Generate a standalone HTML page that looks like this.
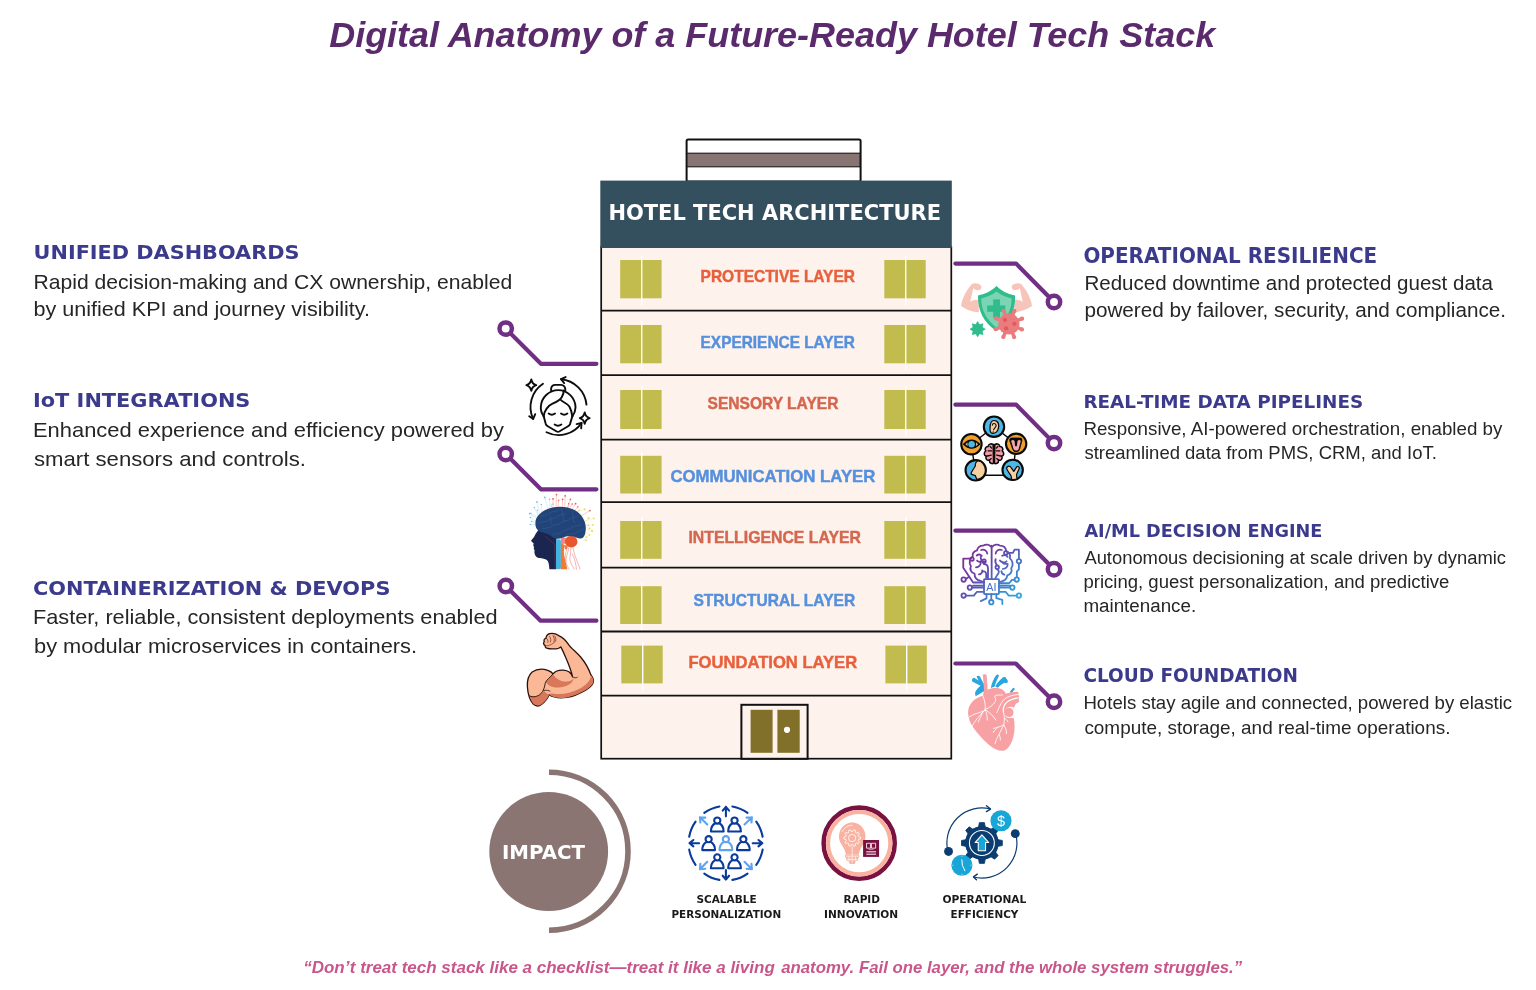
<!DOCTYPE html>
<html lang="en">
<head>
<meta charset="utf-8">
<title>Digital Anatomy of a Future-Ready Hotel Tech Stack</title>
<style>
html,body{margin:0;padding:0;background:#ffffff;}
body{width:1536px;height:990px;overflow:hidden;font-family:"Liberation Sans",sans-serif;}
svg{display:block;will-change:transform;}
text{white-space:pre;}
</style>
</head>
<body>
<svg width="1536" height="990" viewBox="0 0 1536 990">
<rect width="1536" height="990" fill="#ffffff"/>
<text x="329.2" y="46.9" font-size="35.5" fill="#5a2a6c" font-weight="bold" font-style="italic" font-family="'Liberation Sans', sans-serif" text-anchor="start" textLength="886.0" lengthAdjust="spacingAndGlyphs">Digital Anatomy of a Future-Ready Hotel Tech Stack</text>
<rect x="686.6" y="139.6" width="174" height="42" rx="1.5" fill="#fff" stroke="#111" stroke-width="2"/>
<rect x="687" y="153.2" width="173" height="13.6" fill="#887472" stroke="#1a1a1a" stroke-width="1.1"/>
<rect x="601.2" y="247" width="350.0999999999999" height="511.7" fill="#fef2ed" stroke="#111" stroke-width="1.7"/>
<rect x="600.3" y="180.6" width="351.5" height="67.4" fill="#34505f"/>
<text x="608.4" y="219.8" font-size="21.5" fill="#ffffff" font-weight="bold" font-style="normal" font-family="'DejaVu Sans', sans-serif" text-anchor="start" textLength="332.6" lengthAdjust="spacingAndGlyphs">HOTEL TECH ARCHITECTURE</text>
<rect x="620.2" y="260" width="41.4" height="38.3" fill="#c2bb4e"/>
<rect x="641.0" y="256" width="1.4" height="49.3" fill="#ffffff"/>
<rect x="884.3" y="260" width="41.4" height="38.3" fill="#c2bb4e"/>
<rect x="905.0" y="256" width="1.4" height="49.3" fill="#ffffff"/>
<rect x="620.2" y="325" width="41.4" height="38.3" fill="#c2bb4e"/>
<rect x="641.0" y="321" width="1.4" height="49.3" fill="#ffffff"/>
<rect x="884.3" y="325" width="41.4" height="38.3" fill="#c2bb4e"/>
<rect x="905.0" y="321" width="1.4" height="49.3" fill="#ffffff"/>
<rect x="620.2" y="390" width="41.4" height="39.0" fill="#c2bb4e"/>
<rect x="641.0" y="386" width="1.4" height="50.0" fill="#ffffff"/>
<rect x="884.3" y="390" width="41.4" height="39.0" fill="#c2bb4e"/>
<rect x="905.0" y="386" width="1.4" height="50.0" fill="#ffffff"/>
<rect x="620.2" y="455.8" width="41.4" height="37.7" fill="#c2bb4e"/>
<rect x="641.0" y="451.8" width="1.4" height="48.7" fill="#ffffff"/>
<rect x="884.3" y="455.8" width="41.4" height="37.7" fill="#c2bb4e"/>
<rect x="905.0" y="451.8" width="1.4" height="48.7" fill="#ffffff"/>
<rect x="620.2" y="521" width="41.4" height="37.8" fill="#c2bb4e"/>
<rect x="641.0" y="517" width="1.4" height="48.8" fill="#ffffff"/>
<rect x="884.3" y="521" width="41.4" height="37.8" fill="#c2bb4e"/>
<rect x="905.0" y="517" width="1.4" height="48.8" fill="#ffffff"/>
<rect x="620.2" y="586.2" width="41.4" height="37.8" fill="#c2bb4e"/>
<rect x="641.0" y="582.2" width="1.4" height="48.8" fill="#ffffff"/>
<rect x="884.3" y="586.2" width="41.4" height="37.8" fill="#c2bb4e"/>
<rect x="905.0" y="582.2" width="1.4" height="48.8" fill="#ffffff"/>
<rect x="621.3" y="645.6" width="41.4" height="37.8" fill="#c2bb4e"/>
<rect x="642.0" y="641.6" width="1.4" height="48.8" fill="#ffffff"/>
<rect x="885.4" y="645.6" width="41.4" height="37.8" fill="#c2bb4e"/>
<rect x="906.0" y="641.6" width="1.4" height="48.8" fill="#ffffff"/>
<line x1="601.2" y1="310.7" x2="951.3" y2="310.7" stroke="#111" stroke-width="1.8"/>
<line x1="601.2" y1="375.2" x2="951.3" y2="375.2" stroke="#111" stroke-width="1.8"/>
<line x1="601.2" y1="439.7" x2="951.3" y2="439.7" stroke="#111" stroke-width="1.8"/>
<line x1="601.2" y1="502.2" x2="951.3" y2="502.2" stroke="#111" stroke-width="1.8"/>
<line x1="601.2" y1="567.7" x2="951.3" y2="567.7" stroke="#111" stroke-width="1.8"/>
<line x1="601.2" y1="631.5" x2="951.3" y2="631.5" stroke="#111" stroke-width="1.8"/>
<line x1="601.2" y1="695.7" x2="951.3" y2="695.7" stroke="#111" stroke-width="1.8"/>
<rect x="741.4" y="704.8" width="66.2" height="54" fill="#fef2ed" stroke="#111" stroke-width="2"/>
<rect x="750.6" y="709.8" width="22" height="43" fill="#81702a"/>
<rect x="777.4" y="709.8" width="22.3" height="43" fill="#81702a"/>
<circle cx="787" cy="729.8" r="3.1" fill="#fff"/>
<text x="700.6" y="282.3" font-size="16.4" fill="#e8603c" font-weight="bold" font-style="normal" font-family="'Liberation Sans', sans-serif" text-anchor="start" textLength="154.4" lengthAdjust="spacingAndGlyphs" stroke="#e8603c" stroke-width="0.45">PROTECTIVE LAYER</text>
<text x="700.6" y="348.3" font-size="16.4" fill="#5690dc" font-weight="bold" font-style="normal" font-family="'Liberation Sans', sans-serif" text-anchor="start" textLength="154.4" lengthAdjust="spacingAndGlyphs" stroke="#5690dc" stroke-width="0.45">EXPERIENCE LAYER</text>
<text x="707.6" y="409.0" font-size="16.4" fill="#d4674e" font-weight="bold" font-style="normal" font-family="'Liberation Sans', sans-serif" text-anchor="start" textLength="130.8" lengthAdjust="spacingAndGlyphs" stroke="#d4674e" stroke-width="0.45">SENSORY LAYER</text>
<text x="670.4" y="482.2" font-size="16.4" fill="#5690dc" font-weight="bold" font-style="normal" font-family="'Liberation Sans', sans-serif" text-anchor="start" textLength="205.0" lengthAdjust="spacingAndGlyphs" stroke="#5690dc" stroke-width="0.45">COMMUNICATION LAYER</text>
<text x="688.4" y="543.3" font-size="16.4" fill="#d4674e" font-weight="bold" font-style="normal" font-family="'Liberation Sans', sans-serif" text-anchor="start" textLength="172.6" lengthAdjust="spacingAndGlyphs" stroke="#d4674e" stroke-width="0.45">INTELLIGENCE LAYER</text>
<text x="693.4" y="605.8" font-size="16.4" fill="#5690dc" font-weight="bold" font-style="normal" font-family="'Liberation Sans', sans-serif" text-anchor="start" textLength="161.8" lengthAdjust="spacingAndGlyphs" stroke="#5690dc" stroke-width="0.45">STRUCTURAL LAYER</text>
<text x="688.4" y="667.6" font-size="16.4" fill="#e8603c" font-weight="bold" font-style="normal" font-family="'Liberation Sans', sans-serif" text-anchor="start" textLength="168.8" lengthAdjust="spacingAndGlyphs" stroke="#e8603c" stroke-width="0.45">FOUNDATION LAYER</text>
<polyline points="505.7,328.6 540.9,363.8 596.4,363.8" fill="none" stroke="#712e85" stroke-width="4.2" stroke-linecap="round" stroke-linejoin="round"/>
<circle cx="505.7" cy="328.6" r="6.2" fill="#fff" stroke="#712e85" stroke-width="4.5"/>
<polyline points="505.7,454.0 540.9,489.3 596.4,489.3" fill="none" stroke="#712e85" stroke-width="4.2" stroke-linecap="round" stroke-linejoin="round"/>
<circle cx="505.7" cy="454.0" r="6.2" fill="#fff" stroke="#712e85" stroke-width="4.5"/>
<polyline points="505.8,586.0 540.6,620.7 596.4,620.7" fill="none" stroke="#712e85" stroke-width="4.2" stroke-linecap="round" stroke-linejoin="round"/>
<circle cx="505.8" cy="586.0" r="6.2" fill="#fff" stroke="#712e85" stroke-width="4.5"/>
<polyline points="1054,302.0 1016.2,263.6 955.4,263.6" fill="none" stroke="#712e85" stroke-width="4.2" stroke-linecap="round" stroke-linejoin="round"/>
<circle cx="1054" cy="302.0" r="6.2" fill="#fff" stroke="#712e85" stroke-width="4.5"/>
<polyline points="1054,443.1 1016.2,404.7 955.4,404.7" fill="none" stroke="#712e85" stroke-width="4.2" stroke-linecap="round" stroke-linejoin="round"/>
<circle cx="1054" cy="443.1" r="6.2" fill="#fff" stroke="#712e85" stroke-width="4.5"/>
<polyline points="1054,569.3 1015.8,530.7 955.4,530.7" fill="none" stroke="#712e85" stroke-width="4.2" stroke-linecap="round" stroke-linejoin="round"/>
<circle cx="1054" cy="569.3" r="6.2" fill="#fff" stroke="#712e85" stroke-width="4.5"/>
<polyline points="1054,701.8 1015.8,663.5 955.4,663.5" fill="none" stroke="#712e85" stroke-width="4.2" stroke-linecap="round" stroke-linejoin="round"/>
<circle cx="1054" cy="701.8" r="6.2" fill="#fff" stroke="#712e85" stroke-width="4.5"/>
<text x="33.6" y="259.2" font-size="19.9" fill="#3b3a8c" font-weight="bold" font-style="normal" font-family="'DejaVu Sans', sans-serif" text-anchor="start" textLength="265.8" lengthAdjust="spacingAndGlyphs">UNIFIED DASHBOARDS</text>
<text x="33.5" y="288.5" font-size="20.3" fill="#262626" font-weight="normal" font-style="normal" font-family="'Liberation Sans', sans-serif" text-anchor="start" textLength="478.7" lengthAdjust="spacingAndGlyphs">Rapid decision-making and CX ownership, enabled</text>
<text x="33.5" y="315.6" font-size="20.3" fill="#262626" font-weight="normal" font-style="normal" font-family="'Liberation Sans', sans-serif" text-anchor="start" textLength="336.5" lengthAdjust="spacingAndGlyphs">by unified KPI and journey visibility.</text>
<text x="33.0" y="406.7" font-size="20.1" fill="#3b3a8c" font-weight="bold" font-style="normal" font-family="'DejaVu Sans', sans-serif" text-anchor="start" textLength="217.4" lengthAdjust="spacingAndGlyphs">IoT INTEGRATIONS</text>
<text x="33.0" y="437.3" font-size="21.0" fill="#262626" font-weight="normal" font-style="normal" font-family="'Liberation Sans', sans-serif" text-anchor="start" textLength="471.0" lengthAdjust="spacingAndGlyphs">Enhanced experience and efficiency powered by</text>
<text x="34.0" y="466.0" font-size="21.0" fill="#262626" font-weight="normal" font-style="normal" font-family="'Liberation Sans', sans-serif" text-anchor="start" textLength="272.0" lengthAdjust="spacingAndGlyphs">smart sensors and controls.</text>
<text x="33.0" y="595.2" font-size="19.7" fill="#3b3a8c" font-weight="bold" font-style="normal" font-family="'DejaVu Sans', sans-serif" text-anchor="start" textLength="357.4" lengthAdjust="spacingAndGlyphs">CONTAINERIZATION &amp; DEVOPS</text>
<text x="33.0" y="623.6" font-size="20.7" fill="#262626" font-weight="normal" font-style="normal" font-family="'Liberation Sans', sans-serif" text-anchor="start" textLength="464.6" lengthAdjust="spacingAndGlyphs">Faster, reliable, consistent deployments enabled</text>
<text x="34.0" y="652.7" font-size="20.7" fill="#262626" font-weight="normal" font-style="normal" font-family="'Liberation Sans', sans-serif" text-anchor="start" textLength="383.0" lengthAdjust="spacingAndGlyphs">by modular microservices in containers.</text>
<text x="1083.4" y="262.7" font-size="20.6" fill="#3b3a8c" font-weight="bold" font-style="normal" font-family="'DejaVu Sans', sans-serif" text-anchor="start" textLength="293.8" lengthAdjust="spacingAndGlyphs">OPERATIONAL RESILIENCE</text>
<text x="1084.4" y="290.4" font-size="19.7" fill="#262626" font-weight="normal" font-style="normal" font-family="'Liberation Sans', sans-serif" text-anchor="start" textLength="408.6" lengthAdjust="spacingAndGlyphs">Reduced downtime and protected guest data</text>
<text x="1084.4" y="317.4" font-size="19.7" fill="#262626" font-weight="normal" font-style="normal" font-family="'Liberation Sans', sans-serif" text-anchor="start" textLength="421.6" lengthAdjust="spacingAndGlyphs">powered by failover, security, and compliance.</text>
<text x="1083.4" y="408.1" font-size="18.5" fill="#3b3a8c" font-weight="bold" font-style="normal" font-family="'DejaVu Sans', sans-serif" text-anchor="start" textLength="279.8" lengthAdjust="spacingAndGlyphs">REAL-TIME DATA PIPELINES</text>
<text x="1083.4" y="434.6" font-size="17.7" fill="#262626" font-weight="normal" font-style="normal" font-family="'Liberation Sans', sans-serif" text-anchor="start" textLength="419.0" lengthAdjust="spacingAndGlyphs">Responsive, AI-powered orchestration, enabled by</text>
<text x="1084.4" y="458.9" font-size="17.7" fill="#262626" font-weight="normal" font-style="normal" font-family="'Liberation Sans', sans-serif" text-anchor="start" textLength="352.4" lengthAdjust="spacingAndGlyphs">streamlined data from PMS, CRM, and IoT.</text>
<text x="1084.4" y="536.7" font-size="18.5" fill="#3b3a8c" font-weight="bold" font-style="normal" font-family="'DejaVu Sans', sans-serif" text-anchor="start" textLength="238.0" lengthAdjust="spacingAndGlyphs">AI/ML DECISION ENGINE</text>
<text x="1084.4" y="563.5" font-size="17.6" fill="#262626" font-weight="normal" font-style="normal" font-family="'Liberation Sans', sans-serif" text-anchor="start" textLength="421.6" lengthAdjust="spacingAndGlyphs">Autonomous decisioning at scale driven by dynamic</text>
<text x="1083.4" y="587.8" font-size="17.6" fill="#262626" font-weight="normal" font-style="normal" font-family="'Liberation Sans', sans-serif" text-anchor="start" textLength="366.0" lengthAdjust="spacingAndGlyphs">pricing, guest personalization, and predictive</text>
<text x="1083.4" y="611.6" font-size="17.6" fill="#262626" font-weight="normal" font-style="normal" font-family="'Liberation Sans', sans-serif" text-anchor="start" textLength="112.8" lengthAdjust="spacingAndGlyphs">maintenance.</text>
<text x="1083.4" y="681.5" font-size="19.0" fill="#3b3a8c" font-weight="bold" font-style="normal" font-family="'DejaVu Sans', sans-serif" text-anchor="start" textLength="214.6" lengthAdjust="spacingAndGlyphs">CLOUD FOUNDATION</text>
<text x="1083.4" y="708.7" font-size="17.9" fill="#262626" font-weight="normal" font-style="normal" font-family="'Liberation Sans', sans-serif" text-anchor="start" textLength="428.8" lengthAdjust="spacingAndGlyphs">Hotels stay agile and connected, powered by elastic</text>
<text x="1084.4" y="733.5" font-size="17.9" fill="#262626" font-weight="normal" font-style="normal" font-family="'Liberation Sans', sans-serif" text-anchor="start" textLength="366.0" lengthAdjust="spacingAndGlyphs">compute, storage, and real-time operations.</text>
<circle cx="548.7" cy="851.5" r="59.4" fill="#8a7573"/>
<path d="M549,772.2 A79,79 0 0 1 549,930.2" fill="none" stroke="#8a7573" stroke-width="5.6"/>
<text x="502.0" y="858.6" font-size="18.8" fill="#ffffff" font-weight="bold" font-style="normal" font-family="'DejaVu Sans', sans-serif" text-anchor="start" textLength="83.0" lengthAdjust="spacingAndGlyphs">IMPACT</text>
<text x="696.4" y="903.0" font-size="10.6" fill="#1a1a1a" font-weight="bold" font-style="normal" font-family="'DejaVu Sans', sans-serif" text-anchor="start" textLength="60.2" lengthAdjust="spacingAndGlyphs">SCALABLE</text>
<text x="671.4" y="917.5" font-size="10.6" fill="#1a1a1a" font-weight="bold" font-style="normal" font-family="'DejaVu Sans', sans-serif" text-anchor="start" textLength="109.8" lengthAdjust="spacingAndGlyphs">PERSONALIZATION</text>
<text x="843.4" y="903.0" font-size="10.6" fill="#1a1a1a" font-weight="bold" font-style="normal" font-family="'DejaVu Sans', sans-serif" text-anchor="start" textLength="36.6" lengthAdjust="spacingAndGlyphs">RAPID</text>
<text x="824.0" y="917.5" font-size="10.6" fill="#1a1a1a" font-weight="bold" font-style="normal" font-family="'DejaVu Sans', sans-serif" text-anchor="start" textLength="74.2" lengthAdjust="spacingAndGlyphs">INNOVATION</text>
<text x="942.4" y="903.0" font-size="10.6" fill="#1a1a1a" font-weight="bold" font-style="normal" font-family="'DejaVu Sans', sans-serif" text-anchor="start" textLength="84.0" lengthAdjust="spacingAndGlyphs">OPERATIONAL</text>
<text x="950.6" y="917.5" font-size="10.6" fill="#1a1a1a" font-weight="bold" font-style="normal" font-family="'DejaVu Sans', sans-serif" text-anchor="start" textLength="67.8" lengthAdjust="spacingAndGlyphs">EFFICIENCY</text>
<text x="303.2" y="973.0" font-size="16.2" fill="#c9568a" font-weight="bold" font-style="italic" font-family="'Liberation Sans', sans-serif" text-anchor="start" textLength="471.6" lengthAdjust="spacingAndGlyphs">“Don’t treat tech stack like a checklist—treat it like a living</text>
<text x="781.2" y="973.0" font-size="16.2" fill="#c9568a" font-weight="bold" font-style="italic" font-family="'Liberation Sans', sans-serif" text-anchor="start" textLength="461.0" lengthAdjust="spacingAndGlyphs">anatomy. Fail one layer, and the whole system struggles.”</text>
<!-- face / sensory icon -->
<g transform="translate(520,370) scale(0.07072)" fill="none" stroke="#0d0d0d" stroke-width="27" stroke-linecap="round" stroke-linejoin="round">
<path d="M335,655 C300,600 290,560 295,520 C300,390 410,285 540,285 C670,285 785,390 785,530 C785,580 765,620 740,655"/>
<path d="M335,655 L365,765 Q372,785 392,795 L520,870 Q537,880 555,870 L680,795 Q700,785 707,765 L740,655"/>
<path d="M335,655 C340,580 400,500 460,475 C520,450 570,420 590,385 C615,340 620,310 618,290"/>
<path d="M580,425 C620,465 670,470 700,520 C725,565 735,620 740,655"/>
<path d="M440,295 L440,265 Q445,212 500,210 L580,210 Q635,215 640,268 L640,297"/>
<path d="M405,615 Q450,650 495,615"/><path d="M580,615 Q625,650 670,615"/><path d="M490,770 Q537,805 585,770"/>
<path d="M325,195 A395,395 0 0 0 185,690"/><path d="M130,655 L187,692 L215,625"/>
<path d="M940,490 A400,400 0 0 0 580,130"/><path d="M645,100 L580,130 L625,185"/>
<path d="M375,880 A390,390 0 0 0 870,750"/><path d="M800,765 L870,750 L865,825"/>
<path d="M160,135 Q172,200 230,215 Q172,232 160,295 Q146,232 90,215 Q146,200 160,135 Z"/>
<path d="M915,600 Q927,665 985,680 Q927,697 915,760 Q901,697 845,680 Q901,665 915,600 Z"/>
</g>
<!-- brain / intelligence icon -->
<g transform="translate(520,488) scale(0.08688)">
<g stroke-width="5" fill="none" stroke-linecap="round" opacity="0.8">
<path d="M230,300 L195,160 M250,290 L245,190 M215,330 L165,225 M200,360 L110,295 M195,390 L120,340 M190,420 L120,420 M320,240 L285,108 M345,230 L340,130 M210,300 L200,255 M185,330 L125,290 M200,400 L135,385" stroke="#8fd0ee"/>
<path d="M380,225 L380,125 M415,220 L420,75 M440,220 L445,140 M360,215 L360,190 M490,215 L490,130 M515,215 L520,90 M545,225 L580,130 M575,235 L600,185 M600,245 L640,180 M630,260 L665,215 M690,330 L805,260 M660,275 L690,255 M560,220 L560,180" stroke="#ee6a62"/>
<path d="M650,270 L745,245 M740,380 L850,350 M750,430 L840,425 M755,470 L830,495 M750,520 L800,540 M740,560 L765,565 M735,590 L760,600 M745,400 L790,345 M750,450 L800,465" stroke="#f2dc6a"/>
</g>
<g fill="#6fc3ea"><circle cx="195" cy="160" r="10"/><circle cx="245" cy="190" r="9"/><circle cx="165" cy="225" r="9"/><circle cx="110" cy="295" r="9"/><circle cx="120" cy="340" r="9"/><circle cx="120" cy="420" r="9"/><circle cx="285" cy="108" r="10"/><circle cx="340" cy="130" r="9"/><circle cx="200" cy="255" r="8"/><circle cx="135" cy="385" r="8"/><circle cx="125" cy="290" r="8"/><circle cx="380" cy="185" r="8"/></g>
<g fill="#ea5a55"><circle cx="380" cy="125" r="10"/><circle cx="420" cy="75" r="10"/><circle cx="490" cy="130" r="10"/><circle cx="520" cy="90" r="10"/><circle cx="580" cy="130" r="10"/><circle cx="600" cy="185" r="9"/><circle cx="640" cy="180" r="10"/><circle cx="665" cy="215" r="9"/><circle cx="805" cy="260" r="10"/><circle cx="445" cy="140" r="8"/><circle cx="560" cy="180" r="8"/></g>
<g fill="#f0d850"><circle cx="745" cy="245" r="11"/><circle cx="685" cy="258" r="9"/><circle cx="850" cy="350" r="10"/><circle cx="790" cy="345" r="12"/><circle cx="840" cy="425" r="10"/><circle cx="785" cy="430" r="11"/><circle cx="830" cy="495" r="12"/><circle cx="800" cy="465" r="10"/><circle cx="800" cy="540" r="10"/><circle cx="765" cy="565" r="11"/><circle cx="760" cy="600" r="10"/></g>
<!-- face silhouette -->
<path d="M215,480 C195,505 180,525 172,545 C160,575 140,590 128,603 C126,615 150,625 158,640 C150,655 152,670 162,680 C156,695 158,705 168,715 C160,750 175,790 200,800 C240,815 290,805 320,840 C335,870 335,900 338,935 L420,935 L420,570 L300,500 Z" fill="#1a2550"/>
<path d="M290,555 C330,590 370,620 400,650 L405,935" fill="none" stroke="#8a3a4a" stroke-width="6"/>
<!-- spinal / orange -->
<path d="M465,600 C470,640 500,640 520,660 C500,700 500,760 520,830 C530,880 540,910 545,935 L465,935 Z" fill="#ef7a30"/>
<path d="M470,575 C500,560 540,570 545,600 C540,640 500,650 470,640 Z" fill="#f08585"/>
<ellipse cx="590" cy="618" rx="72" ry="68" fill="#e9552c"/>
<path d="M520,660 C540,650 560,680 540,700 C520,720 510,700 520,660Z" fill="#ef7a30"/>
<rect x="415" y="590" width="55" height="345" rx="20" fill="#3fb4e5"/>
<path d="M415,640 L415,935 L440,935 L425,640Z" fill="#1a2550" opacity="0.0"/>
<g fill="none" stroke="#e8554a" stroke-width="5" stroke-linecap="round">
<path d="M560,690 C555,760 520,800 530,850 C540,900 560,920 565,935"/>
<path d="M585,690 C590,760 560,800 580,850 C600,900 620,920 625,935"/>
<path d="M610,685 C620,750 640,800 660,850 C675,890 690,915 690,935"/>
<path d="M540,700 C520,760 515,800 520,830"/>
<path d="M600,760 C620,800 640,840 650,935"/>
</g>
<!-- brain -->
<path d="M180,440 C170,380 185,330 230,295 C290,240 380,215 460,215 C560,215 650,250 700,310 C745,360 765,430 755,495 C750,545 730,580 700,582 C660,585 640,560 600,555 C560,548 520,560 480,575 C440,590 400,585 370,560 C340,540 320,525 290,520 C240,510 190,490 180,440 Z" fill="#234478"/>
<g fill="none" stroke="#3565a5" stroke-width="6" stroke-linecap="round" opacity="0.9">
<path d="M240,330 C280,300 320,320 340,290 C370,260 420,280 450,250"/>
<path d="M220,400 C260,380 300,400 330,370 C360,340 400,360 430,330 C460,300 500,320 530,290"/>
<path d="M260,470 C300,450 340,470 370,440 C400,410 440,430 470,400 C500,370 540,390 570,360 C600,330 640,350 660,320"/>
<path d="M380,540 C420,520 460,530 490,500 C520,470 560,490 590,460 C620,430 660,450 700,420"/>
<path d="M540,540 C580,520 620,540 650,510 C680,480 710,500 735,470"/>
<path d="M480,250 C500,300 480,340 510,380 M600,270 C620,320 600,360 630,400 M350,330 C360,370 350,400 370,430"/>
</g>
</g>
<!-- arm / structural icon -->
<g transform="translate(520,626) scale(0.08688)" stroke-linejoin="round" stroke-linecap="round">
<path d="M340,88 C380,80 420,92 445,110 C490,130 535,175 560,215 C590,260 650,300 700,360 C750,420 790,490 815,560 C835,590 850,610 845,640 C840,680 800,710 760,735 C700,770 620,810 540,822 C470,832 400,835 335,792 C320,830 290,870 250,900 C220,925 180,925 150,895 C110,850 90,780 85,700 C80,630 95,570 140,530 C190,495 260,490 320,510 C350,520 370,535 380,550 C400,525 450,505 500,508 C550,512 590,540 605,585 C590,520 560,440 525,360 C505,310 485,270 470,240 C450,262 400,268 340,262 C300,260 285,245 290,225 C270,215 265,195 280,180 C270,165 280,145 300,140 C300,115 320,95 340,88 Z" fill="#fbb896" stroke="#2a120a" stroke-width="15"/>
<path d="M298,645 C330,600 360,580 380,552 C410,610 480,645 540,640 C580,638 605,620 618,600 C610,650 560,690 470,705 C400,715 330,700 298,645 Z" fill="#d9775a"/>
<path d="M335,792 C400,835 470,832 540,822 C620,810 700,770 760,735 C800,710 840,680 845,640 C848,620 835,595 818,568 C815,630 750,690 680,725 C600,765 500,790 420,782 C380,778 350,770 335,792 Z" fill="#d9775a"/>
<path d="M110,800 C170,830 240,800 275,745 C300,770 320,785 335,795 C320,830 290,870 250,900 C220,922 180,920 152,892 C135,870 120,840 110,800Z" fill="#d9775a"/>
<path d="M380,552 C350,590 300,620 290,660 C285,700 270,750 240,780 C200,815 150,825 112,805" fill="none" stroke="#2a120a" stroke-width="11"/>
<path d="M275,742 C300,735 330,740 345,750" fill="none" stroke="#2a120a" stroke-width="9"/>
<path d="M605,585 C625,600 645,600 660,590" fill="none" stroke="#2a120a" stroke-width="9"/>
<path d="M300,140 C320,150 330,170 320,190 M340,120 C355,140 360,165 350,185 M380,110 C395,135 400,160 390,180 M290,225 C320,235 370,215 410,175 C415,150 410,130 400,115" fill="none" stroke="#7a3a25" stroke-width="9"/>
</g>
<!-- shield / protective icon -->
<g transform="translate(955,275) scale(0.07072)">
<path d="M240,122 Q320,100 368,148 Q388,198 332,215 Q285,218 258,186 L215,380 Q270,338 332,352 L338,528 Q200,520 85,440 Q100,290 240,122 Z" fill="#f6c4b9"/>
<g transform="translate(1174,0) scale(-1,1)"><path d="M240,122 Q320,100 368,148 Q388,198 332,215 Q285,218 258,186 L215,380 Q270,338 332,352 L338,528 Q200,520 85,440 Q100,290 240,122 Z" fill="#f6c4b9"/></g>
<path d="M587,155 Q680,255 850,290 Q862,620 587,792 Q318,620 325,290 Q492,255 587,155 Z" fill="#2fbd8c"/>
<path d="M587,235 Q680,310 802,332 Q800,580 587,742 Q372,580 370,332 Q492,310 587,235 Z" fill="#7bd5b5"/>
<rect x="540" y="345" width="96" height="258" fill="#2fbd8c"/>
<rect x="455" y="430" width="256" height="90" fill="#2fbd8c"/>
<circle cx="762" cy="692" r="150" fill="#e97c7c"/>
<line x1="896" y1="638" x2="948" y2="618" stroke="#e97c7c" stroke-width="48" stroke-linecap="round"/>
<circle cx="948" cy="618" r="30" fill="#e97c7c"/>
<line x1="895" y1="749" x2="946" y2="770" stroke="#e97c7c" stroke-width="48" stroke-linecap="round"/>
<circle cx="946" cy="770" r="30" fill="#e97c7c"/>
<line x1="816" y1="826" x2="836" y2="878" stroke="#e97c7c" stroke-width="48" stroke-linecap="round"/>
<circle cx="836" cy="878" r="30" fill="#e97c7c"/>
<line x1="705" y1="825" x2="684" y2="876" stroke="#e97c7c" stroke-width="48" stroke-linecap="round"/>
<circle cx="684" cy="876" r="30" fill="#e97c7c"/>
<line x1="628" y1="746" x2="576" y2="766" stroke="#e97c7c" stroke-width="48" stroke-linecap="round"/>
<circle cx="576" cy="766" r="30" fill="#e97c7c"/>
<line x1="629" y1="635" x2="578" y2="614" stroke="#e97c7c" stroke-width="48" stroke-linecap="round"/>
<circle cx="578" cy="614" r="30" fill="#e97c7c"/>
<line x1="708" y1="558" x2="688" y2="506" stroke="#e97c7c" stroke-width="48" stroke-linecap="round"/>
<circle cx="688" cy="506" r="30" fill="#e97c7c"/>
<line x1="819" y1="559" x2="840" y2="508" stroke="#e97c7c" stroke-width="48" stroke-linecap="round"/>
<circle cx="840" cy="508" r="30" fill="#e97c7c"/>
<circle cx="706" cy="636" r="30" fill="#e8555f"/><circle cx="840" cy="690" r="30" fill="#e8555f"/><circle cx="722" cy="756" r="30" fill="#e8555f"/>
<polygon points="320,658 346,703 396,690 383,740 428,766 383,792 396,842 346,829 320,874 294,829 244,842 257,792 212,766 257,740 244,690 294,703" fill="#2fbd8c" stroke="#2fbd8c" stroke-width="10" stroke-linejoin="round"/>
<circle cx="320" cy="766" r="74" fill="#2fbd8c"/>
</g>
<!-- senses / real-time icon -->
<g transform="translate(952,410) scale(0.07776)" stroke="#0a0a0a" stroke-linejoin="round" stroke-linecap="round">
<polygon points="540,215 825,435 780,840 305,840 250,440" fill="#fff" stroke-width="18"/>
<circle cx="540" cy="215" r="131" fill="#4db8e8" stroke-width="27"/>
<circle cx="250" cy="440" r="131" fill="#f0a02c" stroke-width="27"/>
<circle cx="825" cy="435" r="131" fill="#f0a02c" stroke-width="27"/>
<circle cx="305" cy="775" r="131" fill="#4db8e8" stroke-width="27"/>
<circle cx="780" cy="770" r="131" fill="#4db8e8" stroke-width="27"/>
<!-- ear -->
<path d="M540,135 C600,135 610,200 595,240 C585,280 560,300 525,300 C495,300 485,270 490,230 C490,180 500,135 540,135Z" fill="#f8cfa0" stroke-width="16"/>
<path d="M518,195 C520,165 565,165 568,200 C568,225 540,230 535,255 M530,280 L528,285" fill="none" stroke-width="14"/>
<!-- eye -->
<path d="M148,440 Q250,335 358,440 Q250,545 148,440Z" fill="#0a0a0a" stroke-width="14"/>
<path d="M172,440 L200,415 L200,465Z M335,440 L308,415 L308,465Z" fill="#c9b8a0" stroke="none"/>
<circle cx="252" cy="440" r="42" fill="#4db8e8" stroke="none"/>
<!-- tongue -->
<path d="M740,385 Q740,355 775,360 L870,360 Q905,355 900,390 L870,505 Q860,540 825,540 Q790,540 780,505 Z" fill="#0a0a0a" stroke-width="10"/>
<path d="M760,395 Q790,375 805,400 L810,460 Q825,475 835,460 L842,400 Q860,375 885,395 L858,500 Q850,522 825,522 Q800,522 792,500Z" fill="#f6a6ae" stroke="none"/>
<!-- nose face -->
<path d="M330,655 C380,650 425,700 430,775 C430,830 390,880 320,895 L300,845 L245,825 L250,800 L300,720 L300,700 C300,680 310,665 330,655Z" fill="#f8cfa0" stroke-width="16"/>
<!-- hand -->
<path d="M700,745 C715,715 745,715 760,740 L795,790 L830,735 C845,715 875,730 862,760 L830,830 L835,890 L770,900 L760,850 C740,810 710,790 700,745Z" fill="#f8cfa0" stroke-width="16"/>
<!-- brain -->
<g fill="#f39aa8" stroke-width="20">
<path d="M530,445 C500,425 465,440 465,470 C430,470 415,505 435,525 C405,545 410,590 440,595 C425,625 450,655 480,645 C480,685 520,700 535,680 Z"/>
<path d="M550,445 C580,425 615,440 615,470 C650,470 665,505 645,525 C675,545 670,590 640,595 C655,625 630,655 600,645 C600,685 560,700 545,680 Z"/>
</g>
<path d="M540,440 L540,690 M465,525 L510,525 M440,595 L505,580 M480,645 L505,625 M615,525 L570,525 M640,595 L575,580 M600,645 L575,625 M490,470 L510,490 M590,470 L570,490" fill="none" stroke-width="17"/>
</g>
<!-- AI brain icon -->
<defs><linearGradient id="aig" gradientUnits="userSpaceOnUse" x1="150" y1="100" x2="950" y2="900">
<stop offset="0" stop-color="#8a2a8c"/><stop offset="0.35" stop-color="#6a3fa8"/><stop offset="0.7" stop-color="#3f83cf"/><stop offset="1" stop-color="#1fb8ea"/></linearGradient></defs>
<g transform="translate(952,538) scale(0.07273)" fill="none" stroke="url(#aig)" stroke-width="25" stroke-linecap="round" stroke-linejoin="round">
<path d="M545,105 L545,565"/>
<path d="M535,118 C510,85 460,82 430,105 C390,100 350,130 345,170 C300,180 275,215 285,255 C240,285 230,345 260,385 C240,430 265,480 310,490 C310,540 345,580 395,590 C405,600 420,605 440,605"/>
<path d="M555,118 C580,85 630,82 660,105 C705,105 740,135 745,180 C790,195 810,240 795,280 C840,315 845,375 815,415 C830,460 805,505 760,515 C755,560 725,590 680,598 C670,604 660,606 648,606"/>
<path d="M485,215 C480,170 440,150 400,165 M455,330 C420,330 390,300 395,260 M410,245 C390,225 360,225 340,240 M330,405 C370,400 400,370 395,330 M345,310 C365,330 385,330 405,315 M370,500 C400,500 420,475 415,445 M470,545 L470,495 C470,470 450,455 430,460 M495,420 C495,380 470,360 440,360 L440,345 M495,560 L495,420"/>
<path d="M600,215 C605,170 645,150 685,165 M660,310 C685,340 725,345 750,320 M690,245 C720,225 750,235 765,260 M700,425 C740,425 770,395 765,355 M690,330 C700,350 720,360 745,355 M720,505 C700,500 680,480 680,455 M600,545 L640,480 C650,460 640,440 622,432 M600,290 C590,320 595,345 615,370 M600,545 L600,560"/>
<rect x="440" y="565" width="206" height="206" rx="10"/>
<circle cx="160" cy="572" r="30"/><circle cx="245" cy="682" r="30"/><circle cx="160" cy="792" r="30"/><circle cx="540" cy="882" r="30"/>
<circle cx="830" cy="682" r="30"/><circle cx="920" cy="792" r="30"/><circle cx="890" cy="572" r="30"/><circle cx="920" cy="320" r="30"/>
<circle cx="740" cy="205" r="24"/><circle cx="275" cy="290" r="24"/><circle cx="440" cy="318" r="24"/><circle cx="622" cy="402" r="24"/>
<path d="M250,283 L155,283 L155,410 L290,612 L440,612"/>
<path d="M190,565 L225,540"/>
<path d="M277,682 L440,682 M290,655 L440,655"/>
<path d="M190,792 L300,792 L340,742 L440,742"/>
<path d="M646,655 L800,655 M646,682 L800,682"/>
<path d="M646,742 L740,742 L780,792 L888,792"/>
<path d="M540,771 L540,850 M475,771 L475,830 L395,868 M610,771 L610,828 L692,850 L692,908"/>
<path d="M766,205 L838,205 L860,160 L920,160 L920,288 M920,352 L920,430 L892,462 L892,540 M860,575 L825,575 L785,622 L646,622"/>
</g>
<text x="991.3" y="590.7" font-size="11.6" font-weight="normal" font-family="'Liberation Sans', sans-serif" fill="#4a6fc4" text-anchor="middle" textLength="10.2" lengthAdjust="spacingAndGlyphs">AI</text>
<!-- heart / cloud foundation icon -->
<g transform="translate(955,668) scale(0.09294)">
<g fill="#29a5df">
<path d="M222,305 L215,270 C225,235 255,205 275,190 L195,150 C175,140 180,110 205,105 L255,135 L232,95 C240,80 262,82 270,95 L305,165 L335,185 L330,240 Z"/>
<path d="M385,215 C395,160 420,105 445,75 C460,62 478,72 470,92 C450,130 435,170 428,200 Z"/>
<path d="M432,200 C460,150 495,115 520,100 C535,95 548,100 550,112 C560,118 572,135 568,150 C560,165 545,160 530,158 C500,175 475,195 462,212 Z"/>
<path d="M588,262 C600,240 615,222 630,212 C640,212 645,225 640,235 C628,245 618,258 612,268 Z"/>
</g>
<path d="M302,298 C305,270 310,250 312,235 L300,75 C305,65 335,65 340,75 L352,235 C380,215 420,212 450,215 C510,220 540,250 545,278 C580,265 620,258 655,255 C675,252 688,262 684,280 C690,300 690,325 688,345 C690,365 680,380 660,378 C650,395 640,410 635,428 C610,410 570,415 545,440 C520,470 525,510 555,530 C590,545 625,535 632,540 C645,600 645,680 625,750 C605,820 570,880 520,890 C470,895 420,870 370,830 C310,780 250,715 200,645 C160,590 135,520 142,460 C150,380 220,315 302,298 Z" fill="#f7a1a4"/>
<circle cx="578" cy="480" r="52" fill="#f7a1a4"/>
<g fill="none" stroke="#fff" stroke-width="9" stroke-linecap="round" stroke-linejoin="round">
<path d="M300,300 C320,350 330,400 325,450 C300,470 260,480 215,495 C190,505 170,515 150,530"/>
<path d="M325,450 C300,480 250,520 210,585 C200,600 190,615 185,625"/>
<path d="M300,475 C285,510 265,550 250,580"/>
<path d="M325,450 C340,470 345,510 348,560"/>
<path d="M335,455 C370,480 410,510 440,560"/>
<path d="M325,445 C370,430 410,400 435,360 C450,335 420,320 430,300 C445,285 480,295 510,290"/>
<path d="M685,285 C620,290 560,305 520,345 C490,385 470,430 450,480"/>
<path d="M688,320 C640,325 590,340 550,375 C525,400 515,430 520,470" stroke-width="12"/>
<path d="M520,470 C530,510 535,560 525,610 C500,630 450,640 415,650"/>
<path d="M460,640 C440,655 420,675 412,695"/>
<path d="M525,610 C500,660 470,720 445,770 C440,790 435,800 430,815"/>
<path d="M525,615 C545,640 555,670 555,705"/>
<path d="M478,720 C485,740 490,760 488,775"/>
<path d="M530,540 C545,545 560,560 570,580"/>
<path d="M545,520 C570,535 600,535 625,525" stroke-width="7"/>
</g>
</g>
<!-- scalable personalization icon -->
<g transform="translate(680,798) scale(0.0909)" fill="none" stroke-width="23" stroke-linecap="round" stroke-linejoin="round">
<path d="M909,568 A410,410 0 0 1 839,735" stroke="#0a3a9a"/>
<path d="M743,831 A410,410 0 0 1 576,901" stroke="#0a3a9a"/>
<path d="M434,901 A410,410 0 0 1 267,831" stroke="#0a3a9a"/>
<path d="M171,735 A410,410 0 0 1 101,568" stroke="#0a3a9a"/>
<path d="M101,426 A410,410 0 0 1 171,259" stroke="#0a3a9a"/>
<path d="M267,163 A410,410 0 0 1 434,93" stroke="#0a3a9a"/>
<path d="M576,93 A410,410 0 0 1 743,163" stroke="#0a3a9a"/>
<path d="M839,259 A410,410 0 0 1 909,426" stroke="#0a3a9a"/>
<path d="M800,497 L905,497 M863,532 L905,497 L863,462" stroke="#0a3a9a"/>
<path d="M505,792 L505,897 M470,855 L505,897 L540,855" stroke="#0a3a9a"/>
<path d="M210,497 L105,497 M147,462 L105,497 L147,532" stroke="#0a3a9a"/>
<path d="M505,202 L505,97 M540,139 L505,97 L470,139" stroke="#0a3a9a"/>
<path d="M710,702 L791,783 M732,778 L791,783 L786,724" stroke="#5fa3ee"/>
<path d="M300,702 L219,783 M224,724 L219,783 L278,778" stroke="#5fa3ee"/>
<path d="M300,292 L219,211 M278,216 L219,211 L224,270" stroke="#5fa3ee"/>
<path d="M710,292 L791,211 M786,270 L791,211 L732,216" stroke="#5fa3ee"/>
<circle cx="410" cy="248" r="34" stroke="#0a3a9a"/>
<path d="M340,368 L480,368 C480,310 450,288 432,278 M340,368 C340,310 370,288 388,278" stroke="#0a3a9a"/>
<circle cx="600" cy="248" r="34" stroke="#0a3a9a"/>
<path d="M530,368 L670,368 C670,310 640,288 622,278 M530,368 C530,310 560,288 578,278" stroke="#0a3a9a"/>
<circle cx="315" cy="453" r="34" stroke="#0a3a9a"/>
<path d="M245,573 L385,573 C385,515 355,493 337,483 M245,573 C245,515 275,493 293,483" stroke="#0a3a9a"/>
<circle cx="505" cy="453" r="34" stroke="#5fa3ee"/>
<path d="M435,573 L575,573 C575,515 545,493 527,483 M435,573 C435,515 465,493 483,483" stroke="#5fa3ee"/>
<circle cx="697" cy="453" r="34" stroke="#0a3a9a"/>
<path d="M627,573 L767,573 C767,515 737,493 719,483 M627,573 C627,515 657,493 675,483" stroke="#0a3a9a"/>
<circle cx="410" cy="653" r="34" stroke="#0a3a9a"/>
<path d="M340,773 L480,773 C480,715 450,693 432,683 M340,773 C340,715 370,693 388,683" stroke="#0a3a9a"/>
<circle cx="600" cy="653" r="34" stroke="#0a3a9a"/>
<path d="M530,773 L670,773 C670,715 640,693 622,683 M530,773 C530,715 560,693 578,683" stroke="#0a3a9a"/>
</g>
<!-- rapid innovation icon -->
<g transform="translate(814,798) scale(0.0909)">
<circle cx="497" cy="497" r="391" fill="#fff" stroke="#7a1240" stroke-width="50"/>
<circle cx="497" cy="497" r="343" fill="#fff" stroke="#f9b2a2" stroke-width="46"/>
<path d="M350,620 C345,560 300,520 282,470 C255,370 320,270 420,270 C520,270 590,370 560,470 C545,520 498,560 495,620 Z" fill="#f9b2a2"/>
<rect x="340" y="618" width="160" height="42" rx="18" fill="#f9b2a2"/>
<rect x="352" y="655" width="136" height="36" rx="14" fill="#f9b2a2"/>
<path d="M375,688 L465,688 L450,722 Q420,732 392,722 Z" fill="#f9b2a2"/>
<polygon points="491,426 511,429 511,451 491,454 485,470 500,485 487,503 469,493 455,503 459,523 438,530 428,512 412,512 402,530 381,523 385,503 371,493 353,503 340,485 355,470 349,454 329,451 329,429 349,426 355,410 340,395 353,377 371,387 385,377 381,357 402,350 412,368 428,368 438,350 459,357 455,377 469,387 487,377 500,395 485,410" fill="none" stroke="#fff" stroke-width="9" stroke-linejoin="round"/>
<circle cx="420" cy="440" r="40" fill="none" stroke="#fff" stroke-width="9"/>
<path d="M420,532 L420,720 M350,640 L490,640 M360,675 L480,675 M385,640 L385,700 M455,640 L455,700" stroke="#fff" stroke-width="7" fill="none"/>
<path d="M310,370 C335,320 380,300 420,300" stroke="#fff" stroke-width="8" fill="none" stroke-linecap="round"/>
<rect x="540" y="462" width="176" height="186" fill="#7a1240"/>
<path d="M578,498 L622,498 L622,552 L578,552 Z M632,498 L678,498 L678,552 L632,552 Z" fill="none" stroke="#fff" stroke-width="9"/>
<path d="M600,565 L655,565" stroke="#e8c0d0" stroke-width="8"/>
<path d="M575,592 L682,592 M575,618 L682,618" stroke="#fff" stroke-width="11"/>
</g>
<!-- operational efficiency icon -->
<g transform="translate(936,798) scale(0.0909)">
<polygon points="469,319 477,271 533,271 541,319 604,345 644,317 683,356 655,396 681,459 729,467 729,523 681,531 655,594 683,634 644,673 604,645 541,671 533,719 477,719 469,671 406,645 366,673 327,634 355,594 329,531 281,523 281,467 329,459 355,396 327,356 366,317 406,345" fill="#0b3d70" stroke="#0b3d70" stroke-width="10" stroke-linejoin="round"/>
<circle cx="505" cy="495" r="185" fill="#0b3d70"/>
<circle cx="505" cy="495" r="137" fill="none" stroke="#fff" stroke-width="12"/>
<path d="M505,405 L580,490 L545,490 L545,580 L465,580 L465,490 L430,490 Z" fill="#18a5d8" stroke="#fff" stroke-width="12" stroke-linejoin="round"/>
<circle cx="715" cy="250" r="116" fill="#18a5d8"/>
<circle cx="285" cy="740" r="116" fill="#18a5d8"/>
<path d="M285,680 L290,740 L318,800" fill="none" stroke="#fff" stroke-width="11" stroke-linecap="round" stroke-linejoin="round"/>
<path d="M285,630 L285,648 M285,832 L285,850 M175,740 L193,740 M377,740 L395,740" stroke="#bfe6f5" stroke-width="8"/>
<path d="M130,582 A385,385 0 0 1 598,121" fill="none" stroke="#0b3d70" stroke-width="13"/>
<path d="M555,85 L600,122 L555,150" fill="none" stroke="#0b3d70" stroke-width="15" stroke-linejoin="round" stroke-linecap="round"/>
<circle cx="138" cy="588" r="49" fill="#0b3d70"/>
<path d="M877,395 A385,385 0 0 1 412,869" fill="none" stroke="#0b3d70" stroke-width="13"/>
<path d="M455,838 L412,868 L445,900" fill="none" stroke="#0b3d70" stroke-width="15" stroke-linejoin="round" stroke-linecap="round"/>
<circle cx="872" cy="392" r="49" fill="#0b3d70"/>
</g>
<text x="1001" y="826.4" font-size="14.5" font-family="'Liberation Sans', sans-serif" fill="#fff" text-anchor="middle">$</text>

</svg>
</body>
</html>
